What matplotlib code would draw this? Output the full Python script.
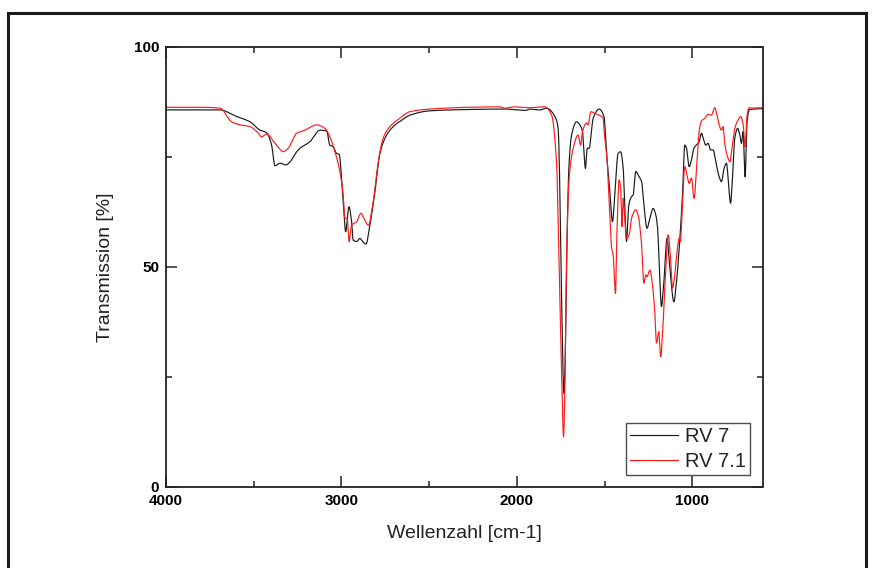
import numpy as np
import matplotlib
matplotlib.use("Agg")
import matplotlib.pyplot as plt
from matplotlib.lines import Line2D
from matplotlib.ticker import MultipleLocator

# FTIR spectra: wavenumber [cm-1] and transmission [%]
rv7_wn = [4000, 3806, 3692, 3597, 3521, 3464, 3426, 3398, 3379, 3350, 3316, 3293,
          3255, 3236, 3179, 3122, 3084, 3066, 3047, 3027, 3013, 2999, 2986, 2976,
          2957, 2942, 2933, 2913, 2895, 2879, 2860, 2838, 2809, 2781, 2742, 2705,
          2648, 2610, 2496, 2268, 2068, 1949, 1926, 1869, 1831, 1783, 1765, 1751,
          1742, 1732, 1721, 1713, 1702, 1688, 1660, 1641, 1626, 1609, 1599, 1588,
          1565, 1531, 1504, 1493, 1485, 1470, 1455, 1442, 1423, 1409, 1394, 1385,
          1375, 1362, 1346, 1337, 1322, 1303, 1289, 1276, 1258, 1242, 1223, 1208,
          1198, 1189, 1176, 1162, 1144, 1128, 1105, 1090, 1071, 1056, 1043, 1033,
          1018, 1005, 991, 961, 948, 938, 923, 910, 896, 881, 866, 847, 834, 819,
          805, 796, 782, 771, 758, 742, 729, 720, 710, 699, 688, 676, 653, 601]
rv7_t = [85.7, 85.7, 85.7, 84.2, 83.0, 81.1, 80.5, 77.7, 73.0, 73.6, 73.2, 73.9,
         76.2, 77.0, 78.5, 81.1, 80.9, 77.7, 77.3, 75.8, 75.6, 70.2, 62.6, 58.0,
         63.7, 60.3, 56.1, 55.8, 56.5, 55.8, 55.2, 59.5, 67.1, 75.8, 80.0, 81.9,
         83.6, 84.5, 85.5, 85.8, 85.9, 85.6, 85.9, 85.7, 86.1, 84.2, 81.6, 58.9,
         36.1, 21.3, 36.1, 58.9, 73.9, 80.0, 83.0, 82.3, 80.8, 72.4, 77.0, 77.0,
         83.8, 85.9, 84.2, 79.3, 73.9, 67.1, 60.3, 66.4, 75.8, 76.2, 72.4, 64.1,
         55.8, 64.1, 66.0, 66.4, 71.7, 70.5, 69.4, 64.1, 58.8, 61.1, 63.3, 61.8,
         58.8, 51.2, 41.0, 46.7, 56.5, 49.7, 42.1, 46.7, 56.5, 66.4, 77.7, 77.0,
         72.8, 74.3, 77.0, 78.5, 80.4, 79.3, 77.7, 78.1, 76.6, 76.6, 73.9, 70.5,
         69.4, 72.4, 73.6, 70.2, 64.5, 70.2, 79.3, 81.5, 80.0, 78.1, 80.8, 70.5,
         83.0, 85.7, 85.9, 86.0]

rv71_wn = [4000, 3806, 3692, 3626, 3578, 3521, 3476, 3455, 3426, 3379, 3356, 3332,
           3303, 3255, 3208, 3141, 3094, 3066, 3037, 3009, 2990, 2980, 2967, 2956,
           2942, 2913, 2889, 2872, 2847, 2819, 2790, 2762, 2724, 2667, 2610, 2496,
           2268, 2097, 2068, 2011, 1926, 1841, 1802, 1774, 1755, 1742, 1734, 1727,
           1717, 1702, 1679, 1651, 1637, 1626, 1603, 1594, 1578, 1556, 1517, 1508,
           1501, 1485, 1470, 1460, 1451, 1438, 1429, 1417, 1407, 1400, 1394, 1385,
           1375, 1360, 1346, 1322, 1309, 1289, 1276, 1265, 1258, 1242, 1227, 1214,
           1204, 1191, 1180, 1166, 1151, 1138, 1124, 1113, 1100, 1087, 1075, 1067,
           1056, 1043, 1030, 1018, 1005, 990, 973, 961, 948, 929, 910, 891, 872,
           859, 847, 834, 825, 815, 805, 796, 786, 771, 758, 739, 724, 710, 699,
           688, 676, 653, 601]
rv71_t = [86.3, 86.3, 86.1, 83.0, 82.3, 81.9, 80.5, 79.6, 80.2, 78.1, 77.0, 76.2,
          77.0, 80.4, 81.1, 82.3, 81.5, 79.6, 76.2, 71.7, 66.4, 61.1, 60.9, 55.8,
          59.5, 60.3, 62.2, 61.1, 59.5, 64.8, 73.9, 79.3, 81.9, 83.8, 85.3, 85.9,
          86.3, 86.4, 86.1, 86.4, 86.2, 86.4, 84.5, 73.9, 43.6, 20.9, 11.4, 20.9,
          51.2, 70.2, 77.0, 80.0, 77.7, 80.8, 82.7, 82.3, 85.3, 84.9, 84.2, 83.8,
          80.0, 73.9, 61.8, 54.3, 52.7, 44.0, 58.8, 69.8, 67.1, 59.2, 65.6, 61.1,
          56.5, 57.3, 61.1, 63.0, 61.8, 55.0, 46.3, 48.2, 47.8, 49.3, 45.9, 39.8,
          32.7, 35.3, 29.6, 37.6, 49.7, 57.3, 52.0, 45.2, 48.2, 53.5, 56.5, 55.8,
          64.1, 72.8, 70.9, 69.0, 70.2, 65.6, 73.9, 80.8, 83.2, 83.8, 84.7, 84.5,
          86.2, 84.5, 82.3, 81.1, 81.9, 78.1, 75.8, 74.7, 73.9, 77.7, 81.5, 83.4,
          84.2, 82.3, 77.3, 84.5, 86.2, 86.1, 86.2]

series_labels = ["RV 7", "RV 7.1"]
x_ticks = [4000, 3000, 2000, 1000]
y_ticks = [0, 50, 100]


def monotone_curve(xs, ys, n_per_seg=12):
    """Fritsch-Carlson monotone cubic through the points (keeps peaks in place)."""
    x = np.asarray(xs, float)[::-1]
    y = np.asarray(ys, float)[::-1]
    h = np.diff(x)
    d = np.diff(y) / h
    m = np.zeros_like(y)
    m[0], m[-1] = d[0], d[-1]
    for k in range(1, len(x) - 1):
        if d[k - 1] * d[k] > 0:
            w1 = 2 * h[k] + h[k - 1]
            w2 = h[k] + 2 * h[k - 1]
            m[k] = (w1 + w2) / (w1 / d[k - 1] + w2 / d[k])
    out_x, out_y = [], []
    t = np.linspace(0, 1, n_per_seg, endpoint=False)
    for k in range(len(x) - 1):
        h00 = 2 * t**3 - 3 * t**2 + 1
        h10 = t**3 - 2 * t**2 + t
        h01 = -2 * t**3 + 3 * t**2
        h11 = t**3 - t**2
        out_x.append(x[k] + t * h[k])
        out_y.append(h00 * y[k] + h10 * h[k] * m[k] + h01 * y[k + 1] + h11 * h[k] * m[k + 1])
    out_x.append([x[-1]])
    out_y.append([y[-1]])
    return np.concatenate(out_x), np.concatenate(out_y)


plt.rcParams["font.family"] = ["Liberation Sans", "DejaVu Sans"]

fig = plt.figure(figsize=(8.74, 5.68), dpi=100)
ax = fig.add_axes([166 / 874, 81 / 568, 596.5 / 874, 440 / 568])

ax.plot(*monotone_curve(rv7_wn, rv7_t), color="#1a1a1a", lw=0.85, label=series_labels[0])
ax.plot(*monotone_curve(rv71_wn, rv71_t), color="#ff1a1a", lw=0.85, label=series_labels[1])

ax.set_xlim(4000, 600)
ax.set_ylim(0, 100)
ax.set_xticks(x_ticks)
ax.set_yticks(y_ticks)
ax.xaxis.set_minor_locator(MultipleLocator(500))
ax.yaxis.set_minor_locator(MultipleLocator(25))
ax.tick_params(which="both", direction="in", top=True, right=True,
               width=1.1, color="#222222")
ax.tick_params(which="major", length=8, labelsize=11, pad=5)
ax.tick_params(which="minor", length=4.5)
for lab in ax.get_xticklabels() + ax.get_yticklabels():
    lab.set_fontweight("bold")
for sp in ax.spines.values():
    sp.set_linewidth(1.3)
    sp.set_color("#222222")

ax.set_xlabel("Wellenzahl [cm-1]", fontsize=14, color="#222222", labelpad=12)
ax.set_ylabel("Transmission [%]", fontsize=14, color="#222222", labelpad=14)

leg = ax.legend(loc="lower right", fontsize=14.5, frameon=True, fancybox=False,
                edgecolor="#222222", handlelength=2.4, handletextpad=0.35,
                borderpad=0.2, labelspacing=0.3, borderaxespad=0.6)
leg.get_frame().set_linewidth(1.0)
for txt in leg.get_texts():
    txt.set_color("#222222")

# border around the whole figure
x0, x1 = 8 / 874, 866 / 874
ytop = 1 - 13 / 568
for xs, ys in [([x0, x1], [ytop, ytop]), ([x0, x0], [ytop, -0.05]),
               ([x1, x1], [ytop, -0.05])]:
    fig.add_artist(Line2D(xs, ys, transform=fig.transFigure, color="#1a1a1a", lw=2.2))

fig.savefig("out.png", dpi=100)
